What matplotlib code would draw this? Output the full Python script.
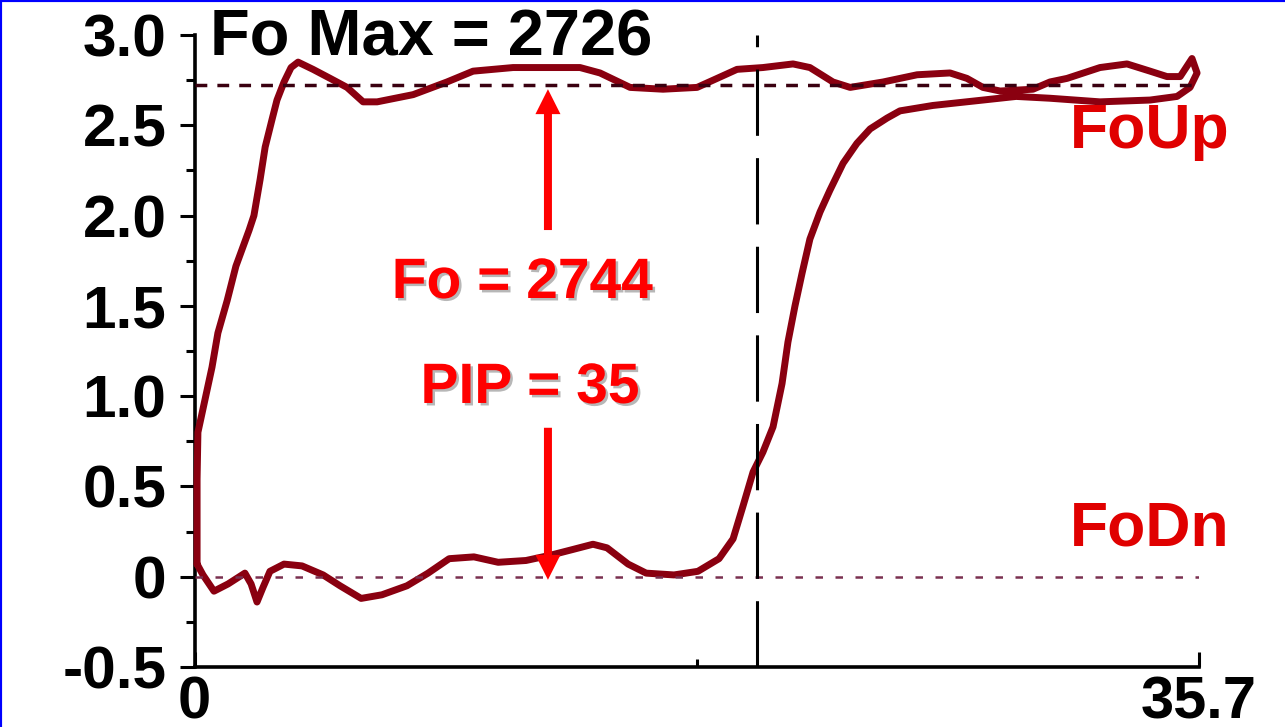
import matplotlib
matplotlib.use('Agg')
import matplotlib.pyplot as plt
from matplotlib import patheffects as pe
from matplotlib.lines import Line2D

plt.rcParams['font.family'] = ['Liberation Sans', 'DejaVu Sans']
plt.rcParams['font.weight'] = 'bold'

# ---------------- data ----------------
# FoDn trace (lower branch, left -> right, then rise to plateau)
dn_x = [0.09, 0.30, 0.69, 1.19, 1.79, 2.01, 2.22, 2.43, 2.68, 3.18,
        3.82, 4.57, 5.17, 5.92, 6.66, 7.55, 8.30, 9.05, 9.93, 10.79,
        11.78, 12.67, 13.42, 14.16, 14.66, 15.41, 16.05, 17.04, 17.89, 18.64,
        19.14, 19.49, 19.85, 20.20, 20.56, 20.88, 21.09, 21.34, 21.59, 21.87,
        22.23, 22.58, 23.05, 23.54, 24.01, 24.61, 25.07, 26.24, 28.02, 29.20,
        30.40, 32.18, 33.96, 34.92, 35.38, 35.63, 35.45]
dn_y = [0.07, 0.01, -0.08, -0.04, 0.02, -0.04, -0.14, -0.06, 0.03, 0.07,
        0.06, 0.01, -0.05, -0.12, -0.10, -0.05, 0.02, 0.10, 0.11, 0.08,
        0.09, 0.12, 0.15, 0.18, 0.16, 0.07, 0.02, 0.01, 0.03, 0.10,
        0.21, 0.39, 0.58, 0.69, 0.83, 1.07, 1.30, 1.50, 1.68, 1.87,
        2.02, 2.14, 2.29, 2.40, 2.48, 2.54, 2.58, 2.61, 2.64, 2.66,
        2.65, 2.63, 2.64, 2.66, 2.71, 2.79, 2.87]

# FoUp trace (upper branch, left -> right)
up_x = [0.09, 0.12, 0.37, 0.62, 0.83, 1.16, 1.47, 1.94, 2.11, 2.33,
        2.51, 2.75, 2.93, 3.18, 3.43, 3.68, 4.21, 4.82, 5.42, 5.99,
        6.49, 7.77, 8.97, 9.90, 11.32, 13.70, 14.41, 15.48, 16.65, 17.86,
        18.43, 19.28, 20.20, 21.27, 21.87, 22.69, 23.30, 24.47, 25.68, 26.85,
        27.45, 28.02, 28.63, 29.80, 30.40, 31.01, 32.18, 33.14, 33.96, 34.56,
        35.03, 35.45]
up_y = [0.54, 0.80, 0.98, 1.16, 1.35, 1.53, 1.72, 1.92, 2.00, 2.20,
        2.38, 2.53, 2.64, 2.74, 2.82, 2.85, 2.81, 2.76, 2.71, 2.63,
        2.63, 2.67, 2.74, 2.80, 2.82, 2.82, 2.79, 2.71, 2.70, 2.71,
        2.75, 2.81, 2.82, 2.84, 2.82, 2.74, 2.71, 2.74, 2.78, 2.79,
        2.76, 2.71, 2.69, 2.70, 2.74, 2.76, 2.82, 2.84, 2.80, 2.77,
        2.77, 2.87]

fo_max_level = 2.726
fodn_level = 0.0
marker_x = 20.0
x_max = 35.7
arrow_x = 12.56
up_arrow = (1.92, 2.70)
down_arrow = (0.825, -0.017)

y_ticks = [-0.5, 0.0, 0.5, 1.0, 1.5, 2.0, 2.5, 3.0]
y_tick_labels = ['-0.5', '0', '0.5', '1.0', '1.5', '2.0', '2.5', '3.0']
y_minor = [-0.25, 0.25, 0.75, 1.25, 1.75, 2.25, 2.75]
x_ticks = [0, 35.7]
x_tick_labels = ['0', '35.7']
x_minor = [17.85]

title_text = 'Fo Max = 2726'
fo_text = 'Fo = 2744'
pip_text = 'PIP = 35'
up_label = 'FoUp'
dn_label = 'FoDn'

# ---------------- figure ----------------
fig = plt.figure(figsize=(12.85, 7.27), dpi=100)
ax = fig.add_axes([0.1514, 0.0825, 0.7817, 0.8693])

loop_x = dn_x + up_x[::-1] + [dn_x[0]]
loop_y = dn_y + up_y[::-1] + [dn_y[0]]
ax.plot(loop_x, loop_y, color='#8a0010', lw=5.0, solid_joinstyle='round',
        solid_capstyle='round', zorder=3, clip_on=False)

ax.axhline(fo_max_level, color='#3a0010', lw=2.5, dashes=(3.4, 2.9), zorder=4)
ax.axhline(fodn_level, color='#7a3050', lw=1.8, dashes=(3.0, 5.0), zorder=4)
ax.axvline(marker_x, color='black', lw=2.2, dashes=(21.7, 7.3), zorder=5)

ax.set_xlim(0, x_max)
ax.set_ylim(-0.5, 3.0)

for s in ['top', 'right']:
    ax.spines[s].set_visible(False)
for s in ['left', 'bottom']:
    ax.spines[s].set_linewidth(2.6)

ax.set_yticks(y_ticks, y_tick_labels)
ax.set_yticks(y_minor, minor=True)
ax.set_xticks(x_ticks, x_tick_labels)
ax.set_xticks(x_minor, minor=True)
ax.tick_params(axis='y', which='major', direction='out', length=10.8, width=2.2,
               pad=9.4, labelsize=43.5)
ax.tick_params(axis='y', which='minor', direction='out', length=6.5, width=2.2)
ax.tick_params(axis='x', which='major', direction='in', length=10.8, width=2.2,
               pad=6, labelsize=43)
ax.tick_params(axis='x', which='minor', direction='in', length=5.8, width=2.2)

# arrows
ax.arrow(arrow_x, up_arrow[0], 0, up_arrow[1] - up_arrow[0], width=0.284,
         head_width=0.89, head_length=0.138, length_includes_head=True,
         color='red', lw=0, zorder=6)
ax.arrow(arrow_x, down_arrow[0], 0, down_arrow[1] - down_arrow[0], width=0.284,
         head_width=0.89, head_length=0.138, length_includes_head=True,
         color='red', lw=0, zorder=6)

# texts
fig.text(0.1634, 0.9243, title_text, fontsize=46.8, color='black',
         ha='left', va='baseline')
shadow = [pe.withSimplePatchShadow(offset=(1.8, -1.8), shadow_rgbFace='#888888', alpha=0.6)]
fig.text(0.4066, 0.5901, fo_text, fontsize=41, color='#ff0000', ha='center',
         va='baseline', path_effects=shadow)
fig.text(0.4125, 0.4457, pip_text, fontsize=41, color='#ff0000', ha='center',
         va='baseline', path_effects=shadow)
fig.text(0.8327, 0.7964, up_label, fontsize=45, color='#e00000', ha='left',
         va='baseline')
fig.text(0.8327, 0.2503, dn_label, fontsize=45, color='#e00000', ha='left',
         va='baseline')

# blue frame edges (left and top)
fig.add_artist(Line2D([0, 0], [0, 1], transform=fig.transFigure, color='#0000ff', lw=3))
fig.add_artist(Line2D([0, 1], [1, 1], transform=fig.transFigure, color='#0000ff', lw=3))

fig.savefig('out.png', dpi=100)
